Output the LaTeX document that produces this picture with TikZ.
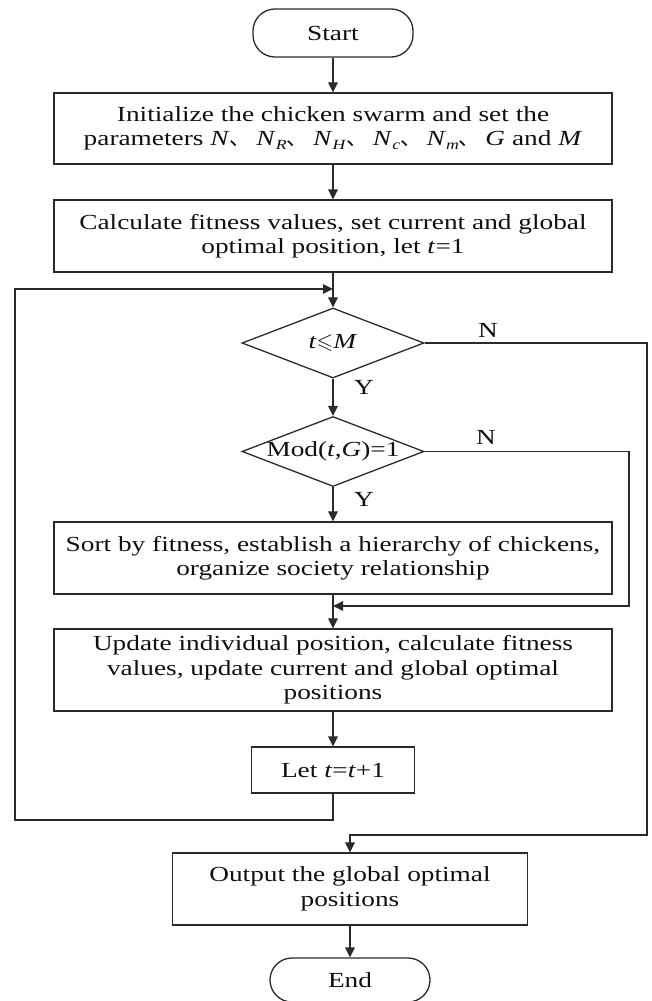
\documentclass[tikz,border=0pt]{standalone}
\usepackage{amssymb}
\usepackage{fontspec}
\setmainfont{Liberation Serif}[FakeStretch=1.27]
\newfontfamily\cjk{Noto Sans CJK SC}
\usetikzlibrary{shapes.geometric,arrows.meta}
\newcommand\mysub[1]{\raisebox{-0.35ex}{\fontsize{14}{14}\selectfont\textit{#1}}}
\newcommand\dun{{\cjk 、}\hspace{5pt}}
\definecolor{ln}{HTML}{2A2A2A}
\definecolor{tx}{HTML}{101010}
\begin{document}
\begin{tikzpicture}[x=1pt,y=-1pt,
  base/.style={draw=ln, line width=1.3pt, text=tx, font=\fontsize{21.5}{24.5}\selectfont, inner sep=0pt, align=center},
  procbox/.style={base, rectangle},
  term/.style={base, rectangle, rounded corners=22pt, minimum width=160, minimum height=48},
  decide/.style={base, diamond, minimum width=182, minimum height=70},
  conn/.style={draw=ln, line width=1.5pt},
  arr/.style={conn, -{Triangle[length=10pt,width=9.5pt]}},
  lbl/.style={text=tx, font=\fontsize{21.5}{24.5}\selectfont, inner sep=0pt}
]
\useasboundingbox (0,0) rectangle (652,1001);

\node[term] (start) at (333,33) {Start};
\node[procbox, minimum width=558, minimum height=71] (init) at (333,128.5)
  {Initialize the chicken swarm and set the\\
   parameters \textit{N}\dun\textit{N}\mysub{R}\dun\textit{N}\mysub{H}\dun\textit{N}\mysub{c}\dun\textit{N}\mysub{m}\dun\textit{G} and \textit{M}};
\node[procbox, minimum width=558, minimum height=72] (calc) at (333,236)
  {Calculate fitness values, set current and global\\optimal position, let \textit{t}=1};
\coordinate (join) at (333,289);
\node[decide] (d1) at (333,343) {\makebox[0pt]{\textit{t}$\leqslant$\textit{M}}};
\node[decide] (d2) at (333,451.5) {\makebox[0pt]{Mod(\textit{t},\textit{G})=1}};
\node[procbox, minimum width=558, minimum height=72] (sort) at (333,558)
  {Sort by fitness, establish a hierarchy of chickens,\\organize society relationship};
\coordinate (merge) at (333,606);
\node[procbox, minimum width=558, minimum height=82] (upd) at (333,670)
  {Update individual position, calculate fitness\\values, update current and global optimal\\positions};
\node[procbox, minimum width=163, minimum height=46] (inc) at (333,770) {Let \textit{t}=\textit{t}+1};
\node[procbox, minimum width=355, minimum height=72] (out) at (350,889)
  {Output the global optimal\\positions};
\node[term, minimum height=44] (end) at (350,980) {End};

\node[lbl] (n1) at (488,330) {N};
\node[lbl] (y1) at (364,387) {Y};
\node[lbl] (n2) at (486,437) {N};
\node[lbl] (y2) at (364,499) {Y};

\coordinate (lb) at (15,820);
\coordinate (lt) at (15,289);
\coordinate (r1) at (647,835);
\coordinate (r2) at (629,606);

\draw[arr] (start) -- (init);
\draw[arr] (init) -- (calc);
\draw[arr] (calc) -- (d1);
\draw[arr] (d1) -- (d2);
\draw[arr] (d2) -- (sort);
\draw[arr] (sort) -- (upd);
\draw[arr] (upd) -- (inc);
\draw[arr] (inc.south) |- (lb) -- (lt) -- (join);
\draw[arr] (d1.east) -| (r1) -- (r1 -| out.north) -- (out.north);
\draw[arr] (d2.east) -| (r2) -- (merge);
\draw[arr] (out) -- (end);
\end{tikzpicture}
\end{document}
